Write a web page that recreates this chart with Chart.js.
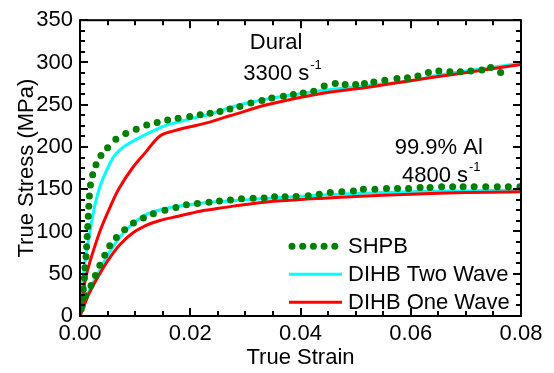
<!DOCTYPE html>
<html>
<head>
<meta charset="utf-8">
<script src="https://cdn.jsdelivr.net/npm/chart.js@4.4.0/dist/chart.umd.min.js"></script>
<style>
  html, body { margin: 0; padding: 0; background: #fff; }
  #wrap { width: 554px; height: 373px; position: relative; }
</style>
</head>
<body>
<div id="wrap"><canvas id="chart"></canvas></div>
<script>
// ---------------------------------------------------------------------
// True stress vs true strain: SHPB against DIHB (two-wave / one-wave)
// ---------------------------------------------------------------------

// Dural, 3300 1/s
const shpbDuralStrain = [0.0002, 0.0004, 0.0006, 0.0008, 0.0009, 0.0011, 0.0012, 0.0013, 0.0014, 0.0015, 0.0016, 0.0017, 0.0019, 0.0023, 0.0029, 0.0038, 0.0050, 0.0065, 0.0083, 0.0102, 0.0121, 0.0140, 0.0159, 0.0178, 0.0199, 0.0218, 0.0236, 0.0254, 0.0272, 0.0290, 0.0310, 0.0330, 0.0348, 0.0369, 0.0387, 0.0405, 0.0424, 0.0443, 0.0463, 0.0481, 0.0500, 0.0516, 0.0533, 0.0553, 0.0575, 0.0594, 0.0613, 0.0632, 0.0651, 0.0671, 0.0690, 0.0709, 0.0729, 0.0745, 0.0763];
const shpbDuralStress = [8, 20, 32, 45, 57, 70, 82, 94, 106, 118, 130, 142, 155, 167, 179, 190, 199, 209, 216, 221, 226, 229, 232, 234, 236, 238, 240, 242, 245, 248, 252, 255, 258, 260, 262, 264, 266, 272, 275, 274, 274, 275, 277, 279, 281, 282, 284, 288, 290, 289, 289, 290, 291, 294, 288];

const twoDuralStrain = [0, 0.0003, 0.0009, 0.0018, 0.0027, 0.0036, 0.0048, 0.0063, 0.0081, 0.0102, 0.0126, 0.0154, 0.0178, 0.0208, 0.0238, 0.0268, 0.0300, 0.0345, 0.0400, 0.0435, 0.0526, 0.0600, 0.0647, 0.0707, 0.0800];
const twoDuralStress = [0, 27, 64, 100, 131, 153, 172, 190, 201, 209, 217, 225, 229.5, 234.5, 239, 246, 251.5, 257.5, 263, 266.5, 273, 278, 284.5, 290.5, 299];

const oneDuralStrain = [0, 0.0005, 0.0010, 0.0018, 0.0036, 0.0054, 0.0070, 0.0096, 0.0118, 0.0145, 0.0170, 0.0194, 0.0230, 0.0262, 0.0278, 0.0339, 0.0435, 0.0526, 0.0575, 0.0647, 0.0707, 0.0800];
const oneDuralStress = [0, 25, 44, 64, 100, 128, 150, 176, 193, 213, 219, 223, 228.5, 235, 238, 250, 263, 271, 276, 283, 288.6, 297.5];

// 99.9% Al, 4800 1/s
const shpbAlStrain = [0.0004, 0.0010, 0.0020, 0.0028, 0.0036, 0.0045, 0.0054, 0.0066, 0.0081, 0.0097, 0.0115, 0.0133, 0.0154, 0.0174, 0.0193, 0.0213, 0.0234, 0.0253, 0.0273, 0.0293, 0.0314, 0.0334, 0.0353, 0.0372, 0.0392, 0.0414, 0.0434, 0.0454, 0.0475, 0.0496, 0.0514, 0.0535, 0.0556, 0.0576, 0.0596, 0.0617, 0.0635, 0.0656, 0.0676, 0.0695, 0.0715, 0.0736, 0.0757, 0.0777, 0.0798];
const shpbAlStress = [12, 24, 36, 48, 60, 72, 83, 93, 102, 110, 116, 121, 125, 128.5, 131.5, 133, 134.7, 136, 137.4, 138.6, 139.3, 139.5, 141, 141, 141.5, 142.4, 144, 146, 147, 148, 150, 150, 151, 151, 151, 152, 152, 153, 153, 153, 153, 153, 153, 153, 153];

const twoAlStrain = [0, 0.00085, 0.0020, 0.0033, 0.0045, 0.0057, 0.0072, 0.0087, 0.0105, 0.0123, 0.0148, 0.0178, 0.0208, 0.0238, 0.0299, 0.0359, 0.0420, 0.0500, 0.0600, 0.0700, 0.0800];
const twoAlStress = [0, 15, 35, 50, 66, 79, 93, 104, 114, 121, 126, 130, 132.5, 134.6, 137.4, 140, 142.4, 145, 147, 148, 149];

const oneAlStrain = [0, 0.0016, 0.0034, 0.0053, 0.0073, 0.0095, 0.0119, 0.0145, 0.0178, 0.0218, 0.0238, 0.0278, 0.0339, 0.0420, 0.0500, 0.0600, 0.0700, 0.0800];
const oneAlStress = [0, 26, 48, 68, 85, 98, 107, 113, 118, 124, 126, 130, 135, 138.6, 141.5, 144, 146, 147];

const xMax = 0.08, xMajor = 0.02, xMinor = 0.005;
const yMax = 350, yMajor = 50, yMinor = 12.5;

const FONT = "'Liberation Sans', Arial, sans-serif";
const GREEN = "#008000", CYAN = "#00FFFF", RED = "#FF0000";

function pts(xs, ys) { return xs.map((x, i) => ({ x, y: ys[i] })); }

function dots(label, xs, ys) {
    return {
        label, data: pts(xs, ys), showLine: false, order: 0,
        pointRadius: 3.5, pointBackgroundColor: GREEN, pointBorderWidth: 0
    };
}

function curve(label, xs, ys, color, order) {
    return {
        label, data: pts(xs, ys), borderColor: color, borderWidth: 3,
        pointRadius: 0, tension: 0.35, order
    };
}

// box around the plot with inward ticks on all four sides
const framePlugin = {
    id: "frame",
    afterDatasetsDraw(chart) {
        const { ctx, chartArea: a, scales: { x, y } } = chart;
        ctx.save();
        ctx.strokeStyle = "#000";
        ctx.lineWidth = 2;
        ctx.beginPath();
        const nx = Math.round(xMax / xMinor);
        for (let i = 0; i <= nx; i++) {
            const px = Math.round(x.getPixelForValue(i * xMinor));
            const len = i % Math.round(xMajor / xMinor) === 0 ? 8 : 5;
            ctx.moveTo(px, a.bottom); ctx.lineTo(px, a.bottom - len);
            ctx.moveTo(px, a.top); ctx.lineTo(px, a.top + len);
        }
        const ny = Math.round(yMax / yMinor);
        for (let i = 0; i <= ny; i++) {
            const py = Math.round(y.getPixelForValue(i * yMinor));
            const len = i % Math.round(yMajor / yMinor) === 0 ? 8 : 5;
            ctx.moveTo(a.left, py); ctx.lineTo(a.left + len, py);
            ctx.moveTo(a.right, py); ctx.lineTo(a.right - len, py);
        }
        ctx.stroke();
        ctx.strokeRect(a.left, a.top, a.right - a.left, a.bottom - a.top);
        ctx.restore();
    }
};

// sample labels with the "s^-1" rate written as a superscript
const notes = [
    { text: "Dural", x: 0.0308, y: 323 },
    { text: "3300 s", sup: "-1", x: 0.0296, y: 287 },
    { text: "99.9% Al", x: 0.0571, y: 199 },
    { text: "4800 s", sup: "-1", x: 0.0584, y: 166 }
];

const notesPlugin = {
    id: "notes",
    afterDraw(chart) {
        const { ctx, scales: { x, y } } = chart;
        ctx.save();
        ctx.fillStyle = "#000";
        ctx.textBaseline = "middle";
        ctx.textAlign = "left";
        notes.forEach((n) => {
            const px = x.getPixelForValue(n.x), py = y.getPixelForValue(n.y);
            ctx.font = "22px " + FONT;
            ctx.fillText(n.text, px, py);
            if (n.sup) {
                const w = ctx.measureText(n.text).width;
                ctx.font = "13px " + FONT;
                ctx.fillText(n.sup, px + w + 1, py - 8);
            }
        });
        ctx.restore();
    }
};

// legend in the lower right corner: dotted row for SHPB, solid lines for DIHB
const legendPlugin = {
    id: "innerLegend",
    afterDraw(chart) {
        const { ctx, chartArea: a } = chart;
        const rows = [
            { label: chart.data.datasets[0].label, type: "dots", color: GREEN },
            { label: chart.data.datasets[2].label, type: "line", color: CYAN },
            { label: chart.data.datasets[4].label, type: "line", color: RED }
        ];
        const x0 = a.left + 209, x1 = a.left + 262, tx = a.left + 268;
        ctx.save();
        ctx.font = "22px " + FONT;
        ctx.textBaseline = "middle";
        rows.forEach((r, i) => {
            const yy = a.top + 226 + i * 28;
            if (r.type === "dots") {
                ctx.fillStyle = r.color;
                for (let k = 0; k < 5; k++) {
                    ctx.beginPath();
                    ctx.arc(x0 + 3 + k * 10.7, yy, 3.5, 0, Math.PI * 2);
                    ctx.fill();
                }
            } else {
                ctx.strokeStyle = r.color;
                ctx.lineWidth = 3;
                ctx.beginPath();
                ctx.moveTo(x0, yy); ctx.lineTo(x1, yy);
                ctx.stroke();
            }
            ctx.fillStyle = "#000";
            ctx.fillText(r.label, tx, yy + 1);
        });
        ctx.restore();
    }
};

new Chart(document.getElementById("chart"), {
    type: "line",
    data: {
        datasets: [
            dots("SHPB", shpbDuralStrain, shpbDuralStress),
            dots("SHPB Al", shpbAlStrain, shpbAlStress),
            curve("DIHB Two Wave", twoDuralStrain, twoDuralStress, CYAN, 2),
            curve("DIHB Two Wave Al", twoAlStrain, twoAlStress, CYAN, 2),
            curve("DIHB One Wave", oneDuralStrain, oneDuralStress, RED, 1),
            curve("DIHB One Wave Al", oneAlStrain, oneAlStress, RED, 1)
        ]
    },
    options: {
        responsive: true, maintainAspectRatio: false, animation: false,
        layout: { padding: { top: 15, right: 33, left: 0, bottom: 0 } },
        plugins: { legend: { display: false }, tooltip: { enabled: false } },
        scales: {
            x: {
                type: "linear", min: 0, max: xMax,
                afterFit: (s) => { s.height = 57; },
                grid: { display: false, drawTicks: false }, border: { display: false },
                ticks: {
                    stepSize: xMajor, padding: 5, color: "#000",
                    font: { family: FONT, size: 22 },
                    callback: (v) => v.toFixed(2)
                },
                title: {
                    display: true, text: "True Strain", color: "#000",
                    font: { family: FONT, size: 22 }, padding: { top: 0, bottom: 2 }
                }
            },
            y: {
                min: 0, max: yMax,
                afterFit: (s) => { s.width = 80; },
                grid: { display: false, drawTicks: false }, border: { display: false },
                ticks: {
                    stepSize: yMajor, padding: 7, color: "#000",
                    font: { family: FONT, size: 22 }
                },
                title: {
                    display: true, text: "True Stress (MPa)", color: "#000",
                    font: { family: FONT, size: 22 }, padding: { top: 14, bottom: 0 }
                }
            }
        }
    },
    plugins: [framePlugin, notesPlugin, legendPlugin]
});
</script>
</body>
</html>
